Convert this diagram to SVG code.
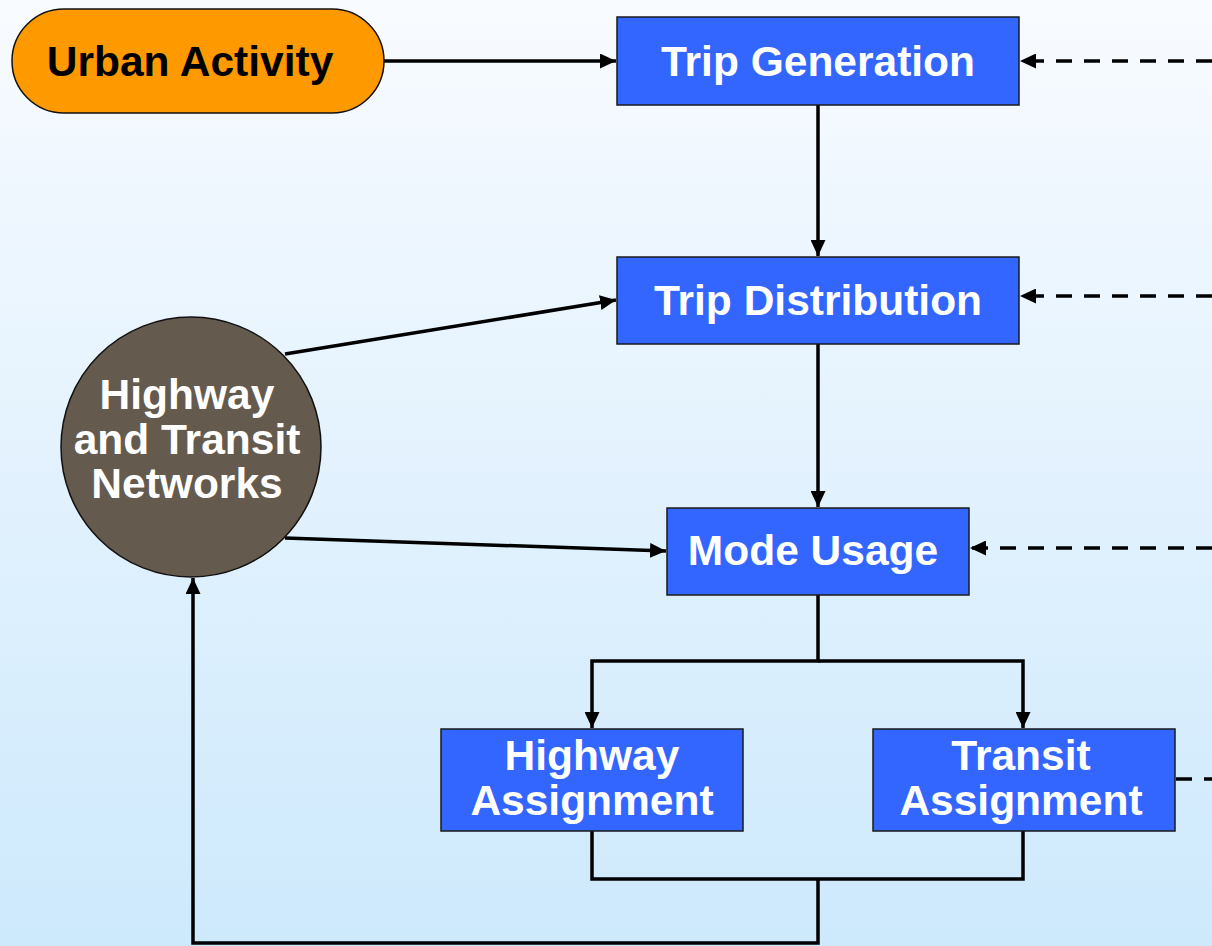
<svg xmlns="http://www.w3.org/2000/svg" width="1212" height="946" viewBox="0 0 1212 946">
<defs>
<linearGradient id="bg" x1="0" y1="0" x2="0" y2="1">
<stop offset="0" stop-color="#f8fbff"/>
<stop offset="1" stop-color="#cde9fc"/>
</linearGradient>
<marker id="ah" viewBox="0 0 16 15" refX="16" refY="7.5" markerWidth="16" markerHeight="15" markerUnits="userSpaceOnUse" orient="auto">
<path d="M0,0 L16,7.5 L0,15 z" fill="#000"/>
</marker>
<style>
.box{fill:#3366ff;stroke:#1a1a1a;stroke-width:1.5}
.t{font-family:"Liberation Sans",Arial,sans-serif;font-weight:bold;font-size:42.5px;text-anchor:middle;fill:#fff}
.dk{fill:#000}
.c{fill:none;stroke:#000;stroke-width:3.5}
.d{fill:none;stroke:#000;stroke-width:3.5;stroke-dasharray:16,12}
</style>
</defs>
<rect width="1212" height="946" fill="url(#bg)"/>
<g id="connectors">
<line class="c" x1="384" y1="61" x2="616" y2="61" marker-end="url(#ah)"/>
<line class="c" x1="818" y1="105" x2="818" y2="256" marker-end="url(#ah)"/>
<line class="c" x1="818" y1="344" x2="818" y2="507" marker-end="url(#ah)"/>
<line class="c" x1="285" y1="354" x2="616" y2="300" marker-end="url(#ah)"/>
<line class="c" x1="285" y1="538" x2="666" y2="551" marker-end="url(#ah)"/>
<polyline class="c" points="818,595 818,661 592,661 592,728" marker-end="url(#ah)"/>
<polyline class="c" points="818,661 1023,661 1023,728" marker-end="url(#ah)"/>
<polyline class="c" points="592,831 592,879 1023,879 1023,831"/>
<polyline class="c" points="818,879 818,943 193,943 193,578" marker-end="url(#ah)"/>
<line class="d" x1="1212" y1="61" x2="1020" y2="61" marker-end="url(#ah)"/>
<line class="d" x1="1212" y1="296" x2="1020" y2="296" marker-end="url(#ah)"/>
<line class="d" x1="1212" y1="548" x2="970" y2="548" marker-end="url(#ah)"/>
<line class="d" x1="1176" y1="779" x2="1212" y2="779"/>
</g>
<g id="urban-activity">
<rect x="12" y="9" width="372" height="104" rx="52" ry="52" fill="#ff9900" stroke="#111" stroke-width="1.5"/>
<text class="t dk" x="190" y="76">Urban Activity</text>
</g>
<g id="trip-generation">
<rect class="box" x="617" y="17" width="402" height="88"/>
<text class="t" x="818" y="76">Trip Generation</text>
</g>
<g id="trip-distribution">
<rect class="box" x="617" y="257" width="402" height="87"/>
<text class="t" x="818" y="315">Trip Distribution</text>
</g>
<g id="mode-usage">
<rect class="box" x="667" y="508" width="302" height="87"/>
<text class="t" x="813" y="565">Mode Usage</text>
</g>
<g id="highway-assignment">
<rect class="box" x="441" y="729" width="302" height="102"/>
<text class="t" x="592" y="770">Highway</text>
<text class="t" x="592" y="815">Assignment</text>
</g>
<g id="transit-assignment">
<rect class="box" x="873" y="729" width="302" height="102"/>
<text class="t" x="1021" y="770">Transit</text>
<text class="t" x="1021" y="815">Assignment</text>
</g>
<g id="networks">
<circle cx="191" cy="447" r="130" fill="#645a4e" stroke="#111" stroke-width="1.5"/>
<text class="t" x="187" y="409">Highway</text>
<text class="t" x="187" y="454">and Transit</text>
<text class="t" x="187" y="498">Networks</text>
</g>
</svg>
